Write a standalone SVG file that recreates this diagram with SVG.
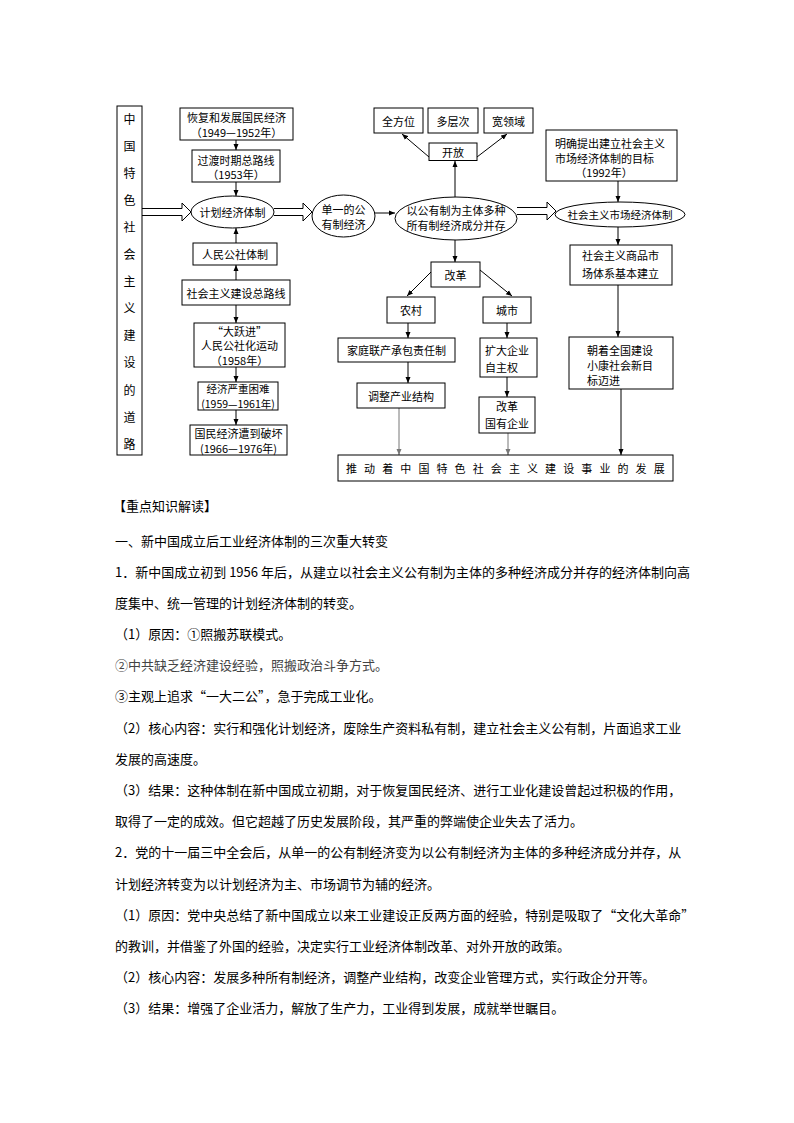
<svg xmlns="http://www.w3.org/2000/svg" width="794" height="1123" viewBox="0 0 794 1123">
<style>
.b{fill:#fff;stroke:#000;stroke-width:1}
.t{font-family:"Noto Sans CJK SC","Noto Sans",sans-serif;font-size:11px;fill:#000;dominant-baseline:central}
.c{text-anchor:middle}
.v{font-size:12px}
.s{font-size:10.5px}
.l{stroke:#000;stroke-width:1;fill:none}
.g{stroke:#777;stroke-width:1;fill:none}
.da{fill:#fff;stroke:#000;stroke-width:1}
.p{font-family:"Noto Sans CJK SC","Noto Sans",sans-serif;font-size:13px;fill:#000;dominant-baseline:central}
</style>
<defs>
<marker id="a" markerUnits="userSpaceOnUse" markerWidth="6" markerHeight="6" refX="6" refY="3" orient="auto"><path d="M0,0.5 L6,3 L0,5.5 z" fill="#000"/></marker>
<marker id="ag" markerUnits="userSpaceOnUse" markerWidth="6" markerHeight="6" refX="6" refY="3" orient="auto"><path d="M0,0.5 L6,3 L0,5.5 z" fill="#777"/></marker>
</defs>
<rect width="794" height="1123" fill="#fff"/>

<g id="connectors">
<line class="l" x1="236" y1="140" x2="236" y2="150" marker-end="url(#a)"/>
<line class="l" x1="236" y1="182" x2="236" y2="196" marker-end="url(#a)"/>
<line class="l" x1="236" y1="243" x2="236" y2="228" marker-end="url(#a)"/>
<line class="l" x1="236" y1="280" x2="236" y2="265" marker-end="url(#a)"/>
<line class="l" x1="236" y1="305" x2="236" y2="323" marker-end="url(#a)"/>
<line class="l" x1="236" y1="367" x2="236" y2="382" marker-end="url(#a)"/>
<line class="l" x1="236" y1="410" x2="236" y2="425" marker-end="url(#a)"/>
<path class="da" d="M142,208.5 H182 V203 L191,212 L182,221 V215.5 H142"/>
<path class="da" d="M274,208.5 H303 V203 L312,212 L303,221 V215.5 H274"/>
<path class="da" d="M517,207.5 H547 V202 L556,211 L547,220 V214.5 H517"/>
<line class="l" x1="375" y1="213" x2="395" y2="213" marker-end="url(#a)"/>
<line class="l" x1="455" y1="197" x2="455" y2="161" marker-end="url(#a)"/>
<line class="l" x1="429" y1="157" x2="402" y2="134" marker-end="url(#a)"/>
<line class="l" x1="477" y1="157" x2="507" y2="134" marker-end="url(#a)"/>
<line class="l" x1="455" y1="240" x2="455" y2="262" marker-end="url(#a)"/>
<line class="l" x1="431" y1="272" x2="407" y2="296" marker-end="url(#a)"/>
<line class="l" x1="480" y1="270" x2="512" y2="296" marker-end="url(#a)"/>
<line class="l" x1="408" y1="323" x2="408" y2="338" marker-end="url(#a)"/>
<line class="l" x1="408" y1="362" x2="408" y2="383" marker-end="url(#a)"/>
<line class="l" x1="507" y1="323" x2="507" y2="338" marker-end="url(#a)"/>
<line class="l" x1="507" y1="377" x2="507" y2="397" marker-end="url(#a)"/>
<line class="g" x1="399" y1="408" x2="399" y2="455" marker-end="url(#ag)"/>
<line class="g" x1="508" y1="433" x2="508" y2="455" marker-end="url(#ag)"/>
<line class="l" x1="618" y1="181" x2="618" y2="202" marker-end="url(#a)"/>
<line class="l" x1="618" y1="227" x2="618" y2="245" marker-end="url(#a)"/>
<line class="l" x1="618" y1="285" x2="618" y2="337" marker-end="url(#a)"/>
<line class="l" x1="621" y1="389" x2="621" y2="455" marker-end="url(#a)"/>
</g>

<g id="n_road">
<rect class="b" x="117" y="106" width="25" height="349"/>
<text class="t c v" x="129.5" y="118">中</text>
<text class="t c v" x="129.5" y="145">国</text>
<text class="t c v" x="129.5" y="172">特</text>
<text class="t c v" x="129.5" y="199">色</text>
<text class="t c v" x="129.5" y="226">社</text>
<text class="t c v" x="129.5" y="253.5">会</text>
<text class="t c v" x="129.5" y="280.5">主</text>
<text class="t c v" x="129.5" y="307.5">义</text>
<text class="t c v" x="129.5" y="334.5">建</text>
<text class="t c v" x="129.5" y="361.5">设</text>
<text class="t c v" x="129.5" y="389">的</text>
<text class="t c v" x="129.5" y="416">道</text>
<text class="t c v" x="129.5" y="443">路</text>
</g>

<g id="n_recover">
<rect class="b" x="180" y="108" width="113" height="32"/>
<text class="t c" x="236.5" y="117">恢复和发展国民经济</text>
<text class="t c" x="236.5" y="131.5">（1949—1952年）</text>
</g>
<g id="n_transition">
<rect class="b" x="192" y="150" width="88" height="32"/>
<text class="t c" x="236" y="159.5">过渡时期总路线</text>
<text class="t c" x="236" y="174">（1953年）</text>
</g>
<g id="n_planned">
<ellipse class="b" cx="232.5" cy="212" rx="41.5" ry="16"/>
<text class="t c" x="232.5" y="212">计划经济体制</text>
</g>
<g id="n_commune">
<rect class="b" x="193" y="243" width="84" height="22"/>
<text class="t c" x="235" y="254">人民公社体制</text>
</g>
<g id="n_general">
<rect class="b" x="182" y="280" width="108" height="25"/>
<text class="t c" x="236" y="292.5">社会主义建设总路线</text>
</g>
<g id="n_leap">
<rect class="b" x="194" y="323" width="91" height="44"/>
<text class="t c" x="239.5" y="330.5">“大跃进”</text>
<text class="t c" x="239.5" y="345">人民公社化运动</text>
<text class="t c" x="239.5" y="359.5">（1958年）</text>
</g>
<g id="n_hard">
<rect class="b" x="198" y="382" width="80" height="28"/>
<text class="t c s" x="238" y="388.5">经济严重困难</text>
<text class="t c s" x="238" y="403">(1959—1961年)</text>
</g>
<g id="n_damage">
<rect class="b" x="190" y="425" width="97" height="30"/>
<text class="t c" x="238.5" y="433">国民经济遭到破坏</text>
<text class="t c" x="238.5" y="447.5">(1966—1976年)</text>
</g>

<g id="n_single">
<ellipse class="b" cx="343.5" cy="216" rx="31.5" ry="21"/>
<text class="t c" x="343.5" y="208.5">单一的公</text>
<text class="t c" x="343.5" y="223.5">有制经济</text>
</g>
<g id="n_multi">
<ellipse class="b" cx="456" cy="218.5" rx="61" ry="21.5"/>
<text class="t c" x="456" y="210">以公有制为主体多种</text>
<text class="t c" x="456" y="225">所有制经济成分并存</text>
</g>
<g id="n_open">
<rect class="b" x="429" y="143" width="48" height="17.5"/>
<text class="t c" x="453" y="152">开放</text>
</g>
<g id="n_all">
<rect class="b" x="374" y="108" width="49" height="25"/>
<text class="t c" x="398.5" y="120.5">全方位</text>
</g>
<g id="n_levels">
<rect class="b" x="428" y="108" width="50" height="25"/>
<text class="t c" x="453" y="120.5">多层次</text>
</g>
<g id="n_fields">
<rect class="b" x="484" y="108" width="49" height="25"/>
<text class="t c" x="508.5" y="120.5">宽领域</text>
</g>
<g id="n_reform">
<rect class="b" x="431" y="262" width="49" height="25"/>
<text class="t c" x="455.5" y="274.5">改革</text>
</g>
<g id="n_rural">
<rect class="b" x="387" y="297" width="48" height="26"/>
<text class="t c" x="411" y="310">农村</text>
</g>
<g id="n_city">
<rect class="b" x="483" y="297" width="48" height="26"/>
<text class="t c" x="507" y="310">城市</text>
</g>
<g id="n_household">
<rect class="b" x="338" y="338" width="117" height="24"/>
<text class="t c" x="396.5" y="350">家庭联产承包责任制</text>
</g>
<g id="n_adjust">
<rect class="b" x="357" y="383" width="88" height="25"/>
<text class="t c" x="401" y="395.5">调整产业结构</text>
</g>
<g id="n_expand">
<rect class="b" x="480" y="338" width="57" height="39"/>
<text class="t" x="485" y="350">扩大企业</text>
<text class="t" x="485" y="367">自主权</text>
</g>
<g id="n_soe">
<rect class="b" x="479" y="397" width="56" height="36"/>
<text class="t c" x="507" y="406">改革</text>
<text class="t c" x="507" y="423">国有企业</text>
</g>

<g id="n_goal">
<rect class="b" x="546" y="130" width="131" height="51"/>
<text class="t" x="555" y="143">明确提出建立社会主义</text>
<text class="t" x="555" y="157.5">市场经济体制的目标</text>
<text class="t c" x="604" y="172">（1992年）</text>
</g>
<g id="n_market">
<ellipse class="b" cx="620" cy="214.5" rx="65" ry="12.5"/>
<text class="t c" x="620" y="214.5" style="font-size:10.5px">社会主义市场经济体制</text>
</g>
<g id="n_commodity">
<rect class="b" x="570" y="245" width="102" height="40"/>
<text class="t" x="582" y="254.5">社会主义商品市</text>
<text class="t" x="582" y="272.5">场体系基本建立</text>
</g>
<g id="n_xiaokang">
<rect class="b" x="569" y="337" width="104" height="52"/>
<text class="t" x="587" y="350">朝着全国建设</text>
<text class="t" x="587" y="365">小康社会新目</text>
<text class="t" x="587" y="380">标迈进</text>
</g>
<g id="n_bar">
<rect class="b" x="338" y="455" width="335" height="26"/>
<text class="t" x="346" y="468" style="letter-spacing:7.1px">推动着中国特色社会主义建设事业的发展</text>
</g>

<g id="body">
<text class="p" x="113" y="505">【重点知识解读】</text>
<text class="p" x="115" y="540">一、新中国成立后工业经济体制的三次重大转变</text>
<text class="p" x="115" y="571">1．新中国成立初到 1956 年后，从建立以社会主义公有制为主体的多种经济成分并存的经济体制向高</text>
<text class="p" x="115" y="602">度集中、统一管理的计划经济体制的转变。</text>
<text class="p" x="115" y="633">（1）原因：①照搬苏联模式。</text>
<text class="p" x="115" y="664" style="fill:#444">②中共缺乏经济建设经验，照搬政治斗争方式。</text>
<text class="p" x="115" y="695">③主观上追求“一大二公”，急于完成工业化。</text>
<text class="p" x="115" y="727">（2）核心内容：实行和强化计划经济，废除生产资料私有制，建立社会主义公有制，片面追求工业</text>
<text class="p" x="115" y="758">发展的高速度。</text>
<text class="p" x="115" y="789">（3）结果：这种体制在新中国成立初期，对于恢复国民经济、进行工业化建设曾起过积极的作用，</text>
<text class="p" x="115" y="820">取得了一定的成效。但它超越了历史发展阶段，其严重的弊端使企业失去了活力。</text>
<text class="p" x="115" y="851">2．党的十一届三中全会后，从单一的公有制经济变为以公有制经济为主体的多种经济成分并存，从</text>
<text class="p" x="115" y="883">计划经济转变为以计划经济为主、市场调节为辅的经济。</text>
<text class="p" x="115" y="914">（1）原因：党中央总结了新中国成立以来工业建设正反两方面的经验，特别是吸取了“文化大革命”</text>
<text class="p" x="115" y="945">的教训，并借鉴了外国的经验，决定实行工业经济体制改革、对外开放的政策。</text>
<text class="p" x="115" y="976">（2）核心内容：发展多种所有制经济，调整产业结构，改变企业管理方式，实行政企分开等。</text>
<text class="p" x="115" y="1007">（3）结果：增强了企业活力，解放了生产力，工业得到发展，成就举世瞩目。</text>
</g>
</svg>
